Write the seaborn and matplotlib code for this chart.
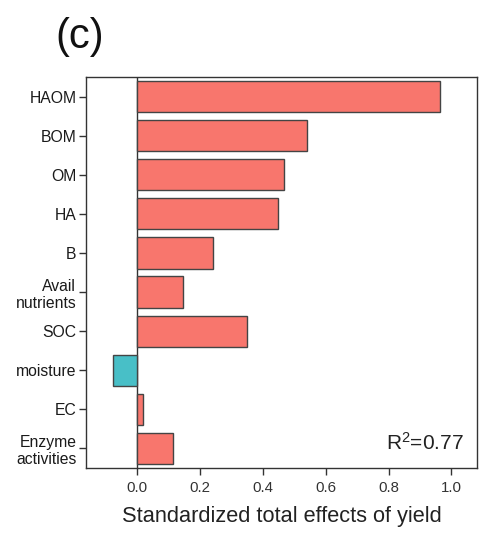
import matplotlib
matplotlib.use("Agg")
import matplotlib.pyplot as plt
import seaborn as sns
import pandas as pd

categories = ["HAOM", "BOM", "OM", "HA", "B", "Avail\nnutrients", "SOC",
              "moisture", "EC", "Enzyme\nactivities"]
effects = [0.964, 0.542, 0.469, 0.450, 0.242, 0.147, 0.351, -0.075, 0.018, 0.115]
x_ticks = [0.0, 0.2, 0.4, 0.6, 0.8, 1.0]
x_label = "Standardized total effects of yield"
panel_label = "(c)"
r2_text = "R$^2$=0.77"

sns.set_theme(style="ticks")
plt.rcParams["font.family"] = ["Liberation Sans", "DejaVu Sans"]
plt.rcParams["mathtext.fontset"] = "custom"
plt.rcParams["mathtext.rm"] = "Liberation Sans"
plt.rcParams["mathtext.it"] = "Liberation Sans:italic"

df = pd.DataFrame({"cat": categories, "val": effects})
pos_col, neg_col = "#F8766D", "#48BFC7"
palette = {c: (pos_col if v >= 0 else neg_col) for c, v in zip(categories, effects)}

fig = plt.figure(figsize=(4.87, 5.41), dpi=100)
ax = fig.add_axes([86 / 487, 1 - 468 / 541, (477.5 - 86) / 487, (468 - 77) / 541])

sns.barplot(data=df, x="val", y="cat", hue="cat", palette=palette, legend=False,
            orient="h", width=0.8, edgecolor="#444444", linewidth=1.0,
            saturation=1, ax=ax)

ax.axvline(0, color="#333333", lw=1.0, zorder=0.5)
ax.set_xlim(-0.162, 1.083)
ax.set_ylim(9.5, -0.5)
ax.set_xticks(x_ticks)
ax.set_xticklabels([f"{t:.1f}" for t in x_ticks])
ax.set_ylabel("")
ax.set_xlabel(x_label, fontsize=15.7, color="#222222", labelpad=8)
for s in ax.spines.values():
    s.set_visible(True)
    s.set_color("#333333")
    s.set_linewidth(1.0)
ax.tick_params(axis="y", labelsize=11.3, length=5, width=1, color="#333333",
               labelcolor="#1a1a1a", pad=2)
ax.tick_params(axis="x", labelsize=10.8, length=5, width=1, color="#333333",
               labelcolor="#333333", pad=4)
ax.grid(False)

ax.text(1.038, 8.85, r2_text, ha="right", va="center", fontsize=15, color="#222222")
fig.text(55 / 487, 1 - 37 / 541, panel_label, ha="left", va="center", fontsize=30,
         color="#111111")

fig.savefig("out.png", dpi=100)
